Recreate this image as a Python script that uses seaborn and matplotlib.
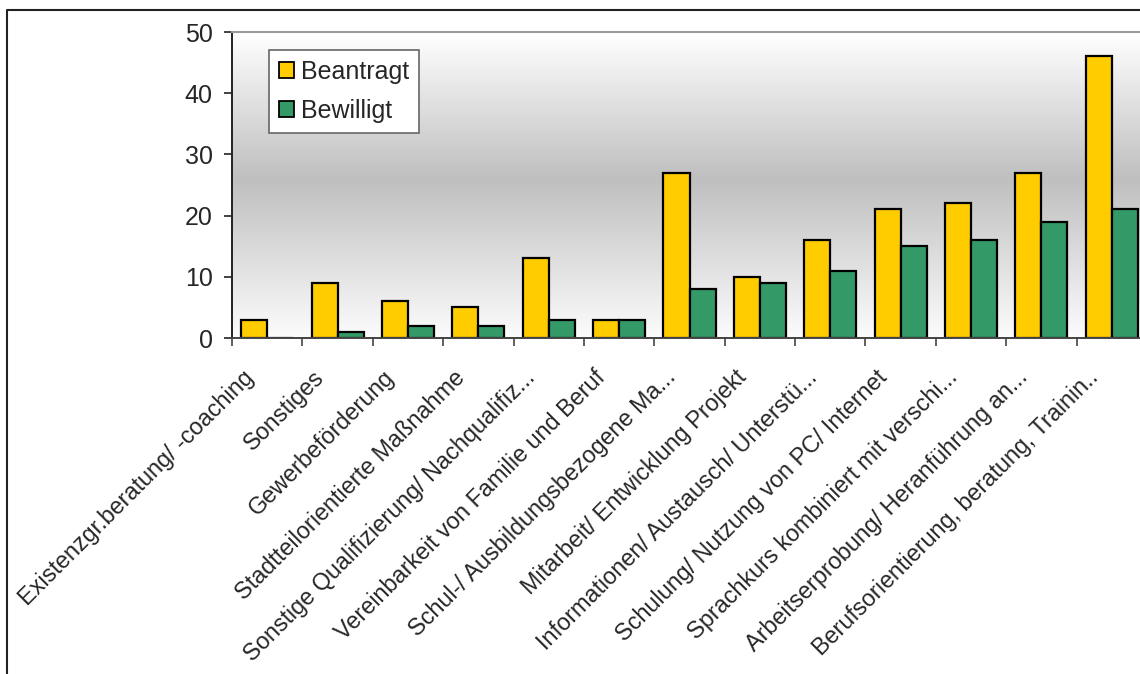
import numpy as np
import pandas as pd
import matplotlib
matplotlib.use("Agg")
import matplotlib.pyplot as plt
import matplotlib.transforms as mtransforms
from matplotlib.patches import Patch
from matplotlib.lines import Line2D
from matplotlib.colors import LinearSegmentedColormap
import seaborn as sns

categories = [
    "Existenzgr.beratung/ -coaching",
    "Sonstiges",
    "Gewerbeförderung",
    "Stadtteilorientierte Maßnahme",
    "Sonstige Qualifizierung/ Nachqualifiz...",
    "Vereinbarkeit von Familie und Beruf",
    "Schul-/ Ausbildungsbezogene Ma...",
    "Mitarbeit/ Entwicklung Projekt",
    "Informationen/ Austausch/ Unterstü...",
    "Schulung/ Nutzung von PC/ Internet",
    "Sprachkurs kombiniert mit verschi...",
    "Arbeitserprobung/ Heranführung an...",
    "Berufsorientierung, beratung, Trainin..",
]
beantragt = [3, 9, 6, 5, 13, 3, 27, 10, 16, 21, 22, 27, 46]
bewilligt = [0, 1, 2, 2, 3, 3, 8, 9, 11, 15, 16, 19, 21]
series_names = ["Beantragt", "Bewilligt"]
colors = ["#FFCC00", "#339966"]
y_ticks = [0, 10, 20, 30, 40, 50]

df = pd.DataFrame({
    "Kategorie": categories * 2,
    "Anzahl": beantragt + bewilligt,
    "Status": [series_names[0]] * len(categories) + [series_names[1]] * len(categories),
})

sns.set_theme(style="white")
plt.rcParams["font.family"] = ["Liberation Sans", "DejaVu Sans"]

W, H, DPI = 1140, 674, 100
FS = 18        # legend and value axis
FS_CAT = 16.8  # rotated category labels
fig = plt.figure(figsize=(W / DPI, H / DPI), dpi=DPI)
fig.patch.set_facecolor("white")

# plot area in pixel coordinates (runs slightly past the right edge)
px_left, px_right, px_top, px_bottom = 232, 1147, 32, 338
ax = fig.add_axes([px_left / W, 1 - px_bottom / H,
                   (px_right - px_left) / W, (px_bottom - px_top) / H])

# vertical white-grey-white gradient behind the bars
grad_cmap = LinearSegmentedColormap.from_list(
    "plotarea", [(0.0, "#fcfcfc"), (0.52, "#bfbfbf"), (1.0, "#ffffff")])
grad = np.linspace(0, 1, 256).reshape(-1, 1)
n = len(categories)
ax.imshow(grad, extent=[-0.5, n - 0.5, 0, 50], origin="lower",
          aspect="auto", cmap=grad_cmap, zorder=0, interpolation="bicubic")

sns.barplot(data=df, x="Kategorie", y="Anzahl", hue="Status",
            palette=colors, saturation=1, width=0.74,
            edgecolor="black", linewidth=1.6, legend=False, ax=ax, zorder=2)

ax.set_xlim(-0.5, n - 0.5)
ax.set_ylim(0, 50)
ax.set_xlabel("")
ax.set_ylabel("")

# y axis
ax.set_yticks(y_ticks)
ax.set_yticklabels([str(v) for v in y_ticks], fontsize=FS)
ax.tick_params(axis="y", which="major", left=True, length=6, width=1.2,
               color="#222222", pad=8)

# x axis: tick marks between categories, labels at category centres
ax.set_xticks(range(n))
ax.set_xticklabels(categories, rotation=45, ha="right", va="top",
                   rotation_mode="anchor", fontsize=FS_CAT)
ax.tick_params(axis="x", which="major", bottom=True, length=0, pad=20)
ax.set_xticks(np.arange(-0.5, n, 1.0), minor=True)
ax.tick_params(axis="x", which="minor", bottom=True, length=6, width=1.2,
               color="#444444")
shift = mtransforms.ScaledTranslation(-25 / DPI, 0, fig.dpi_scale_trans)
for lbl in ax.get_xticklabels():
    lbl.set_transform(lbl.get_transform() + shift)

for side in ["top", "right"]:
    ax.spines[side].set_visible(True)
    ax.spines[side].set_color("#999999")
    ax.spines[side].set_linewidth(1.5)
ax.spines["left"].set_color("#222222")
ax.spines["left"].set_linewidth(1.4)
ax.spines["bottom"].set_color("#444444")
ax.spines["bottom"].set_linewidth(1.4)

handles = [Patch(facecolor=c, edgecolor="black", linewidth=1.3) for c in colors]
leg = ax.legend(handles, series_names, loc="upper left",
                bbox_to_anchor=((269 - px_left) / (px_right - px_left),
                                (px_bottom - 50) / (px_bottom - px_top)),
                borderaxespad=0, fontsize=FS, frameon=True, fancybox=False,
                handlelength=0.6, handleheight=0.6, handletextpad=0.3,
                labelspacing=0.62, borderpad=0.38)
leg.get_frame().set_edgecolor("#666666")
leg.get_frame().set_linewidth(1.2)
leg.get_frame().set_facecolor("white")
leg.get_frame().set_alpha(1)

# outer chart frame (top and left edges)
fig.add_artist(Line2D([7 / W, 7 / W, 1.0], [0.0, 1 - 10 / H, 1 - 10 / H],
                      transform=fig.transFigure, color="#222222", lw=1.5))

fig.savefig("out.png", dpi=DPI, facecolor="white")
